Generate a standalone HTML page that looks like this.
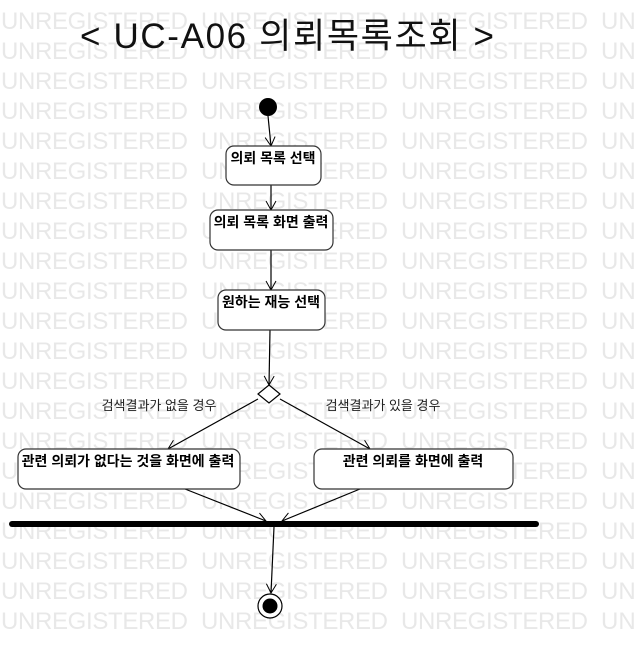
<!DOCTYPE html>
<html><head><meta charset="utf-8"><style>
html,body{margin:0;padding:0;background:#fff;}
svg{display:block;}
</style></head><body>
<svg width="634" height="659" viewBox="0 0 634 659" xmlns="http://www.w3.org/2000/svg">
<defs>
<marker id="a" markerWidth="12" markerHeight="12" refX="10" refY="6" orient="auto" markerUnits="userSpaceOnUse">
<path d="M1,1 L10,6 L1,11" fill="none" stroke="#000" stroke-width="1"/>
</marker>
</defs>
<g font-family="Liberation Sans, sans-serif" font-size="24" fill="#e8e8e8">
<text x="1" y="29" textLength="187">UNREGISTERED</text><text x="201" y="29" textLength="187">UNREGISTERED</text><text x="401" y="29" textLength="187">UNREGISTERED</text><text x="601" y="29">UN</text>
<text x="1" y="59" textLength="187">UNREGISTERED</text><text x="201" y="59" textLength="187">UNREGISTERED</text><text x="401" y="59" textLength="187">UNREGISTERED</text><text x="601" y="59">UN</text>
<text x="1" y="89" textLength="187">UNREGISTERED</text><text x="201" y="89" textLength="187">UNREGISTERED</text><text x="401" y="89" textLength="187">UNREGISTERED</text><text x="601" y="89">UN</text>
<text x="1" y="119" textLength="187">UNREGISTERED</text><text x="201" y="119" textLength="187">UNREGISTERED</text><text x="401" y="119" textLength="187">UNREGISTERED</text><text x="601" y="119">UN</text>
<text x="1" y="149" textLength="187">UNREGISTERED</text><text x="201" y="149" textLength="187">UNREGISTERED</text><text x="401" y="149" textLength="187">UNREGISTERED</text><text x="601" y="149">UN</text>
<text x="1" y="179" textLength="187">UNREGISTERED</text><text x="201" y="179" textLength="187">UNREGISTERED</text><text x="401" y="179" textLength="187">UNREGISTERED</text><text x="601" y="179">UN</text>
<text x="1" y="209" textLength="187">UNREGISTERED</text><text x="201" y="209" textLength="187">UNREGISTERED</text><text x="401" y="209" textLength="187">UNREGISTERED</text><text x="601" y="209">UN</text>
<text x="1" y="239" textLength="187">UNREGISTERED</text><text x="201" y="239" textLength="187">UNREGISTERED</text><text x="401" y="239" textLength="187">UNREGISTERED</text><text x="601" y="239">UN</text>
<text x="1" y="269" textLength="187">UNREGISTERED</text><text x="201" y="269" textLength="187">UNREGISTERED</text><text x="401" y="269" textLength="187">UNREGISTERED</text><text x="601" y="269">UN</text>
<text x="1" y="299" textLength="187">UNREGISTERED</text><text x="201" y="299" textLength="187">UNREGISTERED</text><text x="401" y="299" textLength="187">UNREGISTERED</text><text x="601" y="299">UN</text>
<text x="1" y="329" textLength="187">UNREGISTERED</text><text x="201" y="329" textLength="187">UNREGISTERED</text><text x="401" y="329" textLength="187">UNREGISTERED</text><text x="601" y="329">UN</text>
<text x="1" y="359" textLength="187">UNREGISTERED</text><text x="201" y="359" textLength="187">UNREGISTERED</text><text x="401" y="359" textLength="187">UNREGISTERED</text><text x="601" y="359">UN</text>
<text x="1" y="389" textLength="187">UNREGISTERED</text><text x="201" y="389" textLength="187">UNREGISTERED</text><text x="401" y="389" textLength="187">UNREGISTERED</text><text x="601" y="389">UN</text>
<text x="1" y="419" textLength="187">UNREGISTERED</text><text x="201" y="419" textLength="187">UNREGISTERED</text><text x="401" y="419" textLength="187">UNREGISTERED</text><text x="601" y="419">UN</text>
<text x="1" y="449" textLength="187">UNREGISTERED</text><text x="201" y="449" textLength="187">UNREGISTERED</text><text x="401" y="449" textLength="187">UNREGISTERED</text><text x="601" y="449">UN</text>
<text x="1" y="479" textLength="187">UNREGISTERED</text><text x="201" y="479" textLength="187">UNREGISTERED</text><text x="401" y="479" textLength="187">UNREGISTERED</text><text x="601" y="479">UN</text>
<text x="1" y="509" textLength="187">UNREGISTERED</text><text x="201" y="509" textLength="187">UNREGISTERED</text><text x="401" y="509" textLength="187">UNREGISTERED</text><text x="601" y="509">UN</text>
<text x="1" y="539" textLength="187">UNREGISTERED</text><text x="201" y="539" textLength="187">UNREGISTERED</text><text x="401" y="539" textLength="187">UNREGISTERED</text><text x="601" y="539">UN</text>
<text x="1" y="569" textLength="187">UNREGISTERED</text><text x="201" y="569" textLength="187">UNREGISTERED</text><text x="401" y="569" textLength="187">UNREGISTERED</text><text x="601" y="569">UN</text>
<text x="1" y="599" textLength="187">UNREGISTERED</text><text x="201" y="599" textLength="187">UNREGISTERED</text><text x="401" y="599" textLength="187">UNREGISTERED</text><text x="601" y="599">UN</text>
<text x="1" y="629" textLength="187">UNREGISTERED</text><text x="201" y="629" textLength="187">UNREGISTERED</text><text x="401" y="629" textLength="187">UNREGISTERED</text><text x="601" y="629">UN</text>
</g>

<text x="80" y="48" font-family="Liberation Sans, Noto Sans CJK KR, sans-serif" font-size="35" fill="#111" textLength="414">&lt; UC-A06 의뢰목록조회 &gt;</text>

<g stroke="#000" stroke-width="1.2" fill="none">
<line x1="268" y1="116" x2="271" y2="146" marker-end="url(#a)"/>
<line x1="271" y1="185" x2="271" y2="210" marker-end="url(#a)"/>
<line x1="271" y1="250" x2="271" y2="290" marker-end="url(#a)"/>
<line x1="270" y1="330" x2="269" y2="385" marker-end="url(#a)"/>
<line x1="258" y1="399" x2="168" y2="449" marker-end="url(#a)"/>
<line x1="280" y1="399" x2="370" y2="449" marker-end="url(#a)"/>
<line x1="185" y1="489" x2="266" y2="521" marker-end="url(#a)"/>
<line x1="360" y1="489" x2="282" y2="521" marker-end="url(#a)"/>
<line x1="274" y1="527" x2="271" y2="593" marker-end="url(#a)"/>
</g>

<circle cx="268" cy="107" r="9" fill="#000"/>

<g fill="#fff" stroke="#333" stroke-width="1.2">
<rect x="226" y="146" width="95" height="39" rx="8"/>
<rect x="210" y="210" width="123" height="40" rx="8"/>
<rect x="218" y="290" width="107" height="40" rx="8"/>
<rect x="18" y="449" width="222" height="40" rx="8"/>
<rect x="314" y="449" width="199" height="40" rx="8"/>
<path d="M269,385 L280,394 L269,403 L258,394 Z" stroke="#000"/>
</g>

<g font-family="Liberation Sans, Noto Sans CJK KR, sans-serif" font-size="14" font-weight="bold" fill="#000" text-anchor="middle">
<text x="273" y="163">의뢰 목록 선택</text>
<text x="271" y="227">의뢰 목록 화면 출력</text>
<text x="271" y="307">원하는 재능 선택</text>
<text x="128" y="466">관련 의뢰가 없다는 것을 화면에 출력</text>
<text x="413" y="466">관련 의뢰를 화면에 출력</text>
</g>
<g font-family="Liberation Sans, Noto Sans CJK KR, sans-serif" font-size="13" fill="#222" text-anchor="middle">
<text x="159" y="410">검색결과가 없을 경우</text>
<text x="383" y="410">검색결과가 있을 경우</text>
</g>

<line x1="12" y1="524" x2="536" y2="524" stroke="#000" stroke-width="6" stroke-linecap="round"/>

<circle cx="270" cy="606" r="12" fill="#fff" stroke="#000" stroke-width="1.2"/>
<circle cx="270" cy="606" r="7.5" fill="#000"/>
</svg>
</body></html>
